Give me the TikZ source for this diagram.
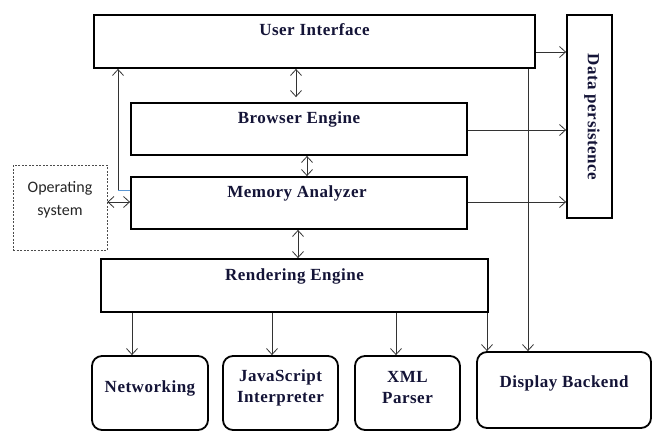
\documentclass[tikz,border=0pt]{standalone}
\usepackage{fontspec}
\newfontfamily\serifb{Liberation Serif}[BoldFont={Liberation Serif Bold},LetterSpace=3]
\newfontfamily\osfont{Carlito}
\usetikzlibrary{arrows.meta}
\definecolor{txt}{RGB}{20,20,55}
\definecolor{lblue}{RGB}{90,150,210}
\begin{document}
\begin{tikzpicture}[x=1pt,y=-1pt,
  box/.style={draw, line width=1.8pt, inner sep=0pt},
  rbox/.style={box, rounded corners=10pt},
  lbl/.style={text=txt, font=\serifb\bfseries\fontsize{17}{21}\selectfont, align=center},
  arr/.style={line width=0.8pt, draw=black!80, arrows={-}},
  tip/.style={-{Straight Barb[length=6pt,width=11pt,line width=0.8pt]}},
  dtip/.style={{Straight Barb[length=6pt,width=11pt,line width=0.8pt]}-{Straight Barb[length=6pt,width=11pt,line width=0.8pt]}}
]
\useasboundingbox (0,0) rectangle (654,432);
\fill[white] (0,0) rectangle (654,432);

\node[box, minimum width=441pt, minimum height=53pt,
  label={[lbl,yshift=11.5pt]center:User Interface}] (ui) at (314.5,41.5) {};
\node[box, minimum width=45pt, minimum height=203pt] (dp) at (589.5,116.5) {};
\node[lbl, rotate=-90] (dpt) at (592,117) {Data persistence};
\node[box, minimum width=336pt, minimum height=52pt,
  label={[lbl,yshift=10pt]center:Browser Engine}] (be) at (299,129) {};
\node[box, minimum width=336pt, minimum height=52pt,
  label={[lbl,yshift=10pt,xshift=-2pt]center:Memory Analyzer}] (ma) at (299,203) {};
\node[box, minimum width=387pt, minimum height=53pt,
  label={[lbl,yshift=9.5pt]center:Rendering Engine}] (re) at (294.5,285.5) {};
\node[draw=black!70, dashed, dash pattern=on 2pt off 1.5pt, line width=0.8pt,
  minimum width=94pt, minimum height=85pt, inner sep=0pt,
  label={[text=black!85, font=\osfont\fontsize{16}{23}\selectfont, align=center, yshift=7.5pt]center:Operating\\system}] (os) at (60,207.5) {};

\node[rbox, minimum width=116pt, minimum height=74pt,
  label={[lbl,yshift=5pt]center:Networking}] (net) at (150,393) {};
\node[rbox, minimum width=115pt, minimum height=74pt,
  label={[lbl,yshift=5.5pt]center:JavaScript\\Interpreter}] (js) at (280.5,393) {};
\node[rbox, minimum width=105pt, minimum height=74pt,
  label={[lbl,yshift=5pt]center:XML\\Parser}] (xml) at (407.5,393) {};
\node[rbox, minimum width=174pt, minimum height=76pt,
  label={[lbl,yshift=7pt]center:Display Backend}] (db) at (564,390) {};

% vertical double arrows
\draw[arr,dtip,shorten >=5pt] (296,0 |- ui.south) -- (296,0 |- be.north);
\draw[arr,dtip] (307,0 |- be.south) -- (307,0 |- ma.north);
\draw[arr,dtip] (298,0 |- ma.south) -- (298,0 |- re.north);
% memory analyzer to UI
\draw[arr,tip] (118,190) -- (118,0 |- ui.south);
\draw[line width=0.8pt, draw=lblue] (ma.west |- 0,190) -- (118,190);
% OS
\draw[arr,dtip] (os.east |- 0,202) -- (ma.west |- 0,202);
% to data persistence
\draw[arr,tip] (ui.east |- 0,52) -- (dp.west |- 0,52);
\draw[arr,tip] (be.east |- 0,130) -- (dp.west |- 0,130);
\draw[arr,tip] (ma.east |- 0,202) -- (dp.west |- 0,202);
% UI to display backend
\draw[arr,tip] (528,0 |- ui.south) -- (528,0 |- db.north);
% rendering engine to components
\draw[arr,tip] (132,0 |- re.south) -- (132,0 |- net.north);
\draw[arr,tip] (272,0 |- re.south) -- (272,0 |- js.north);
\draw[arr,tip] (396,0 |- re.south) -- (396,0 |- xml.north);
\draw[arr,tip] (487,0 |- re.south) -- (487,0 |- db.north);
\end{tikzpicture}
\end{document}
